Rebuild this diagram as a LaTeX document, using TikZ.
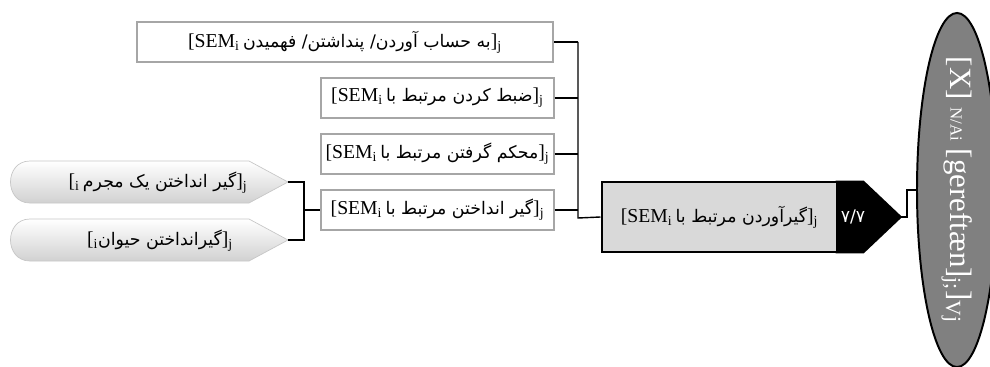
\documentclass[tikz,border=0pt]{standalone}
\usepackage{fontspec}
\setmainfont{Liberation Serif}
\newfontfamily\fafont[Script=Arabic,Scale=0.88]{DejaVu Sans}
\TeXXeTstate=1
\usetikzlibrary{shapes.geometric}

\tikzset{
  sembox/.style={draw=black!35,line width=1.4pt,fill=white,inner sep=0pt,
    minimum height=1cm,font=\fontsize{14}{16}\selectfont},
  link/.style={line width=1pt},
  pill/.style={top color=white,bottom color=black!18,draw=black!22,line width=0.5pt}
}

\begin{document}
\begin{tikzpicture}[x=0.025cm,y=-0.025cm]
        \useasboundingbox (0,0) rectangle (990,367);
        \def\busx{578} % x of the right bracket
        \def\lbusx{304} % x of the left bracket

        % root ellipse
        \node[ellipse,draw,line width=1.4pt,fill=black!50,minimum width=2cm,minimum height=8.85cm,
          inner sep=0pt] (root) at (957,190) {};
        \node[text=white,rotate=-90,font=\fontsize{22}{26}\selectfont] (rootlab) at (root.center)
          {[X] {\fontsize{12}{13}\selectfont N/Ai} [gereftæn]\textsubscript{j;}]\textsubscript{Vj}};

        % main box with black tag
        \draw[line width=2.1pt,line join=miter,fill=black] (837,182) -- ++(26,0)
          -- ++(37,35) coordinate (tip) -- ++(-37,35) -- (837,252) -- cycle;
        \node[draw,line width=2.1pt,fill=black!15,minimum width=5.875cm,minimum height=1.75cm,
          inner sep=0pt,font=\fontsize{14}{16}\selectfont] (main) at (719.5,217)
          {[SEM\textsubscript{i}\,{\fafont\beginR گیرآوردن مرتبط با\endR}]\textsubscript{j}};
        \node[text=white,font=\fafont\fontsize{14}{16}\selectfont] (frac) at (853,217) {۷/۷};

        % sub boxes
        \node[sembox,minimum width=10.4cm] (b1) at (345,42)
          {[SEM\textsubscript{i}\,{\fafont\beginR به حساب آوردن/ پنداشتن/ فهمیدن\endR}]\textsubscript{j}};
        \node[sembox,minimum width=5.8cm] (b2) at (437.5,98)
          {[SEM\textsubscript{i}\,{\fafont\beginR ضبط کردن مرتبط با\endR}]\textsubscript{j}};
        \node[sembox,minimum width=5.8cm] (b3) at (437.5,154)
          {[SEM\textsubscript{i}\,{\fafont\beginR محکم گرفتن مرتبط با\endR}]\textsubscript{j}};
        \node[sembox,minimum width=5.8cm] (b4) at (437.5,210)
          {[SEM\textsubscript{i}\,{\fafont\beginR گیر انداختن مرتبط با\endR}]\textsubscript{j}};

        % pills
        \foreach \yc/\nm in {182/p1,240/p2}
          \draw[pill] (288,\yc) coordinate (\nm) -- (249,\yc-21) -- (30,\yc-21)
            .. controls (4,\yc-21) and (4,\yc+21) .. (30,\yc+21) -- (249,\yc+21) -- cycle;
        \node[font=\fontsize{14}{16}\selectfont] (t1) at (158,183)
          {[\textsubscript{i}\,{\fafont\beginR گیر انداختن یک مجرم\endR}]\textsubscript{j}};
        \node[font=\fontsize{14}{16}\selectfont] (t2) at (160,241)
          {[\textsubscript{i}{\fafont\beginR گیرانداختن حیوان\endR}]\textsubscript{j}};

        % connectors
        \coordinate (bus) at (\busx,218);
        \coordinate (lbus) at (\lbusx,210);
        \foreach \b in {b1,b2,b3,b4}
          \draw[link] (\b.east) -- (\b.east -| bus);
        \draw[link] (b1.east -| bus) -- (bus) -- (main.west);
        \draw[link] (p1) -- (p1 -| lbus) -- (p2 -| lbus) -- (p2);
        \draw[link] (lbus) -- (b4.west);
        \draw[link] (tip) -- ++(7,0) |- (root.west);
\end{tikzpicture}
\end{document}
